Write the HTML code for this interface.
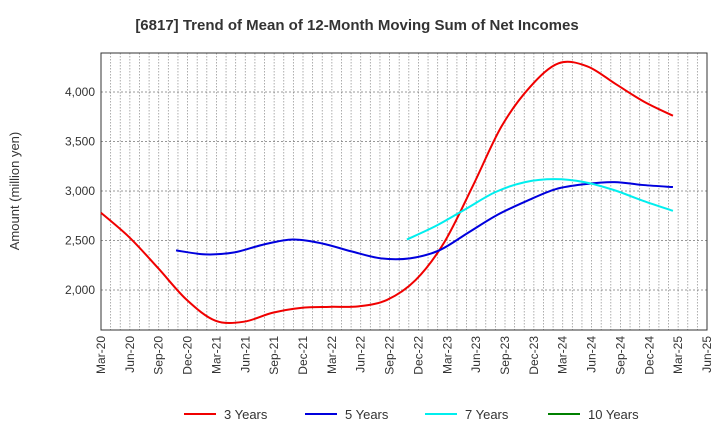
<!DOCTYPE html>
<html><head><meta charset="utf-8"><style>
body{margin:0;background:#fff;font-family:"Liberation Sans",sans-serif}
svg text{font-family:"Liberation Sans",sans-serif}
</style></head><body>
<svg id="c" width="720" height="440">
<text x="357" y="30" text-anchor="middle" font-size="15" font-weight="bold" fill="#333">[6817]  Trend of Mean of 12-Month Moving Sum of Net Incomes</text>
<text transform="translate(19,191) rotate(-90)" text-anchor="middle" font-size="13" fill="#333">Amount (million yen)</text>
<g id="grid"></g><g id="axes"></g><g id="series"></g><g id="legend"></g>
</svg>
<script>
const xLabels=["Mar-20","Jun-20","Sep-20","Dec-20","Mar-21","Jun-21","Sep-21","Dec-21","Mar-22","Jun-22","Sep-22","Dec-22","Mar-23","Jun-23","Sep-23","Dec-23","Mar-24","Jun-24","Sep-24","Dec-24","Mar-25","Jun-25"];
const yTicks=[2000,2500,3000,3500,4000];
const s3=[2780,2530,2220,1900,1690,1680,1770,1820,1830,1835,1900,2100,2480,3050,3650,4050,4290,4260,4080,3900,3760];
const s5=[2400,2360,2380,2460,2510,2470,2390,2320,2320,2400,2580,2760,2900,3020,3070,3090,3060,3040];
const s7=[2510,2650,2820,2990,3090,3120,3090,3010,2900,2800];
const s10=[];
const seriesNames=["3 Years","5 Years","7 Years","10 Years"];
const seriesStart=[0,2.6,10.6,0];
const seriesEnd=19.82;
const seriesColors=["#f00000","#0000dd","#00eeee","#008000"];
const L=101,R=707,T=53,B=330,yMin=1596,yMax=4394;
const ns="http://www.w3.org/2000/svg";
const xs=i=>L+(R-L)*i/(xLabels.length-1);
const ys=v=>B-(v-yMin)/(yMax-yMin)*(B-T);
function mk(t,a,p){const e=document.createElementNS(ns,t);for(const k in a)e.setAttribute(k,a[k]);p.appendChild(e);return e;}
const g=document.getElementById('grid'),ax=document.getElementById('axes'),se=document.getElementById('series'),lg=document.getElementById('legend');
const nm=(xLabels.length-1)*3;
for(let m=1;m<nm;m++){const x=L+(R-L)*m/nm;const l=mk('line',{x1:x,x2:x,y1:T,y2:B,stroke:'#999','stroke-width':0.8,'stroke-dasharray':'1.5,1.5'},g);

}
yTicks.forEach(v=>{const l=mk('line',{x1:L,x2:R,y1:ys(v),y2:ys(v),stroke:'#777','stroke-width':0.8,'stroke-dasharray':'2,2'},g);


const t=mk('text',{x:L-6,y:ys(v)+4,'text-anchor':'end','font-size':12,fill:'#333'},ax);t.textContent=v.toLocaleString('en-US');

});
const fr=mk('rect',{x:L,y:T,width:R-L,height:B-T,fill:'none',stroke:'#333','stroke-width':1},ax);


xLabels.forEach((s,i)=>{const x=xs(i);const t=mk('text',{transform:`translate(${x+4},${B+6}) rotate(-90)`,'text-anchor':'end','font-size':12,fill:'#333'},ax);t.textContent=s;

});
function path(pts){let d=`M${pts[0][0]},${pts[0][1]}`;for(let i=0;i<pts.length-1;i++){const p0=pts[i-1]||pts[i],p1=pts[i],p2=pts[i+1],p3=pts[i+2]||p2;
d+=` C${p1[0]+(p2[0]-p0[0])/6},${p1[1]+(p2[1]-p0[1])/6} ${p2[0]-(p3[0]-p1[0])/6},${p2[1]-(p3[1]-p1[1])/6} ${p2[0]},${p2[1]}`;}return d;}
[s3,s5,s7,s10].forEach((s,k)=>{if(!s.length)return;const st=seriesStart[k],step=s.length>1?(seriesEnd-st)/(s.length-1):0;
const pts=s.map((v,i)=>[xs(st+i*step),ys(v)]);
const p=mk('path',{d:path(pts),fill:'none',stroke:seriesColors[k],'stroke-width':2},se);

});
const lx=[184,305,425,548];
seriesNames.forEach((n,k)=>{const gg=mk('g',{},lg);


mk('line',{x1:lx[k],x2:lx[k]+32,y1:414,y2:414,stroke:seriesColors[k],'stroke-width':2},gg);
const t=mk('text',{x:lx[k]+40,y:419,'font-size':13,fill:'#333'},gg);t.textContent=n;});
</script>
</body></html>
